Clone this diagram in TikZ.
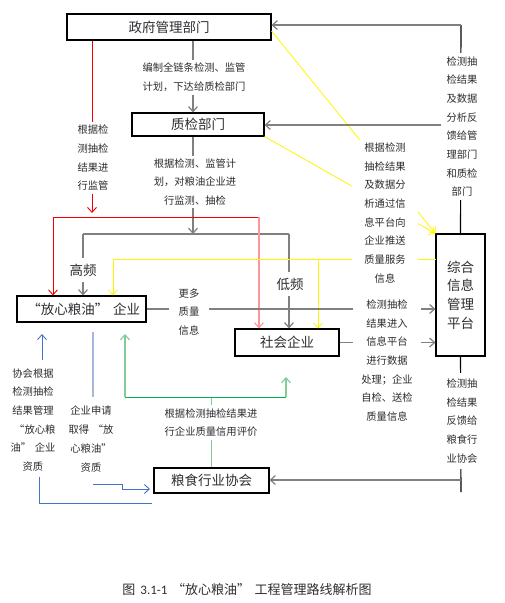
\documentclass[tikz,border=0pt]{standalone}
\usepackage{fontspec}
\setmainfont{Noto Sans CJK SC}
\newfontfamily\latfont{Carlito}
\usepackage{xcolor}
\usepackage{tikz}
\usetikzlibrary{arrows.meta, calc}

\definecolor{lineyel}{RGB}{255,245,0}
\definecolor{linered}{RGB}{240,0,0}
\definecolor{linepink}{RGB}{255,150,150}
\definecolor{linegrn}{RGB}{0,176,80}
\definecolor{linegrnlt}{RGB}{130,205,150}
\definecolor{lineblu}{RGB}{68,114,196}
\definecolor{linebluelt}{RGB}{165,185,220}
\definecolor{txtgray}{RGB}{45,45,50}

\newcommand{\quoteL}{\hspace{0.35em}“}
\newcommand{\quoteR}{”\hspace{0.35em}}

\begin{document}
\begin{tikzpicture}[x=1pt, y=-1pt, line width=0.8pt,
	box/.style={draw, line width=1.1pt, inner sep=0pt, align=center,
		font=\fontsize{13.5}{18.7}\selectfont, text=txtgray},
	lbl/.style={fill=white, align=center, inner xsep=8pt, inner ysep=3pt,
		font=\fontsize{10.3}{18.7}\selectfont, text=txtgray},
	tag/.style={fill=white, inner xsep=4pt, inner ysep=6pt,
		font=\fontsize{13.5}{16}\selectfont, text=txtgray},
	tip/.style={-{Straight Barb[length=5pt,width=9pt]}},
	conn/.style={draw=gray, line width=1.2pt},
	fb/.style={draw=black, line width=1.1pt},
	yelln/.style={draw=lineyel, line width=0.8pt},
	redln/.style={draw=linered, line width=0.9pt},
	pinkln/.style={draw=linepink, line width=1.1pt},
	grnln/.style={draw=linegrn, line width=0.9pt},
	grnlt/.style={draw=linegrnlt, line width=1.1pt},
	bluln/.style={draw=lineblu, line width=0.9pt},
	blult/.style={draw=linebluelt, line width=1.1pt}]

	\useasboundingbox (0,0) rectangle (504,603);

	\node[box, minimum width=204pt, minimum height=26pt] (gov) at (169,27) {政府管理部门};
	\node[box, minimum width=132pt, minimum height=23pt] (qc) at (198,124.5) {质检部门};
	\node[box, minimum width=129pt, minimum height=26pt] (fx) at (81.5,309) {\quoteL 放心粮油\quoteR 企业};
	\node[box, minimum width=104pt, minimum height=27pt] (sh) at (287,342.5) {社会企业};
	\node[box, minimum width=49pt, minimum height=122pt] (plat) at (460.5,295) {综合\\信息\\管理\\平台};
	\node[box, minimum width=115pt, minimum height=25pt] (assoc) at (211.5,480.5) {粮食行业协会};

	\coordinate (planX) at (193,0);
	\coordinate (split) at (193,234);
	\coordinate (hiTop) at (83,234);
	\coordinate (loTop) at (289,234);
	\coordinate (redTop) at (92,213);
	\coordinate (redA) at (53,217);
	\coordinate (redB) at (259,217);
	\coordinate (yelA) at (436,259);
	\coordinate (yelB) at (318,259);
	\coordinate (yelC) at (113,259);
	\coordinate (fbTop) at (461,25);
	\coordinate (fbMid) at (461,125);
	\coordinate (fbLow) at (461,480);
	\coordinate (fbEnd) at (461,492);
	\coordinate (grA) at (125,397);
	\coordinate (grB) at (286,397);
	\coordinate (bluA) at (152,503);
	\coordinate (bluB) at (39,477);
	\coordinate (bluC) at (42,360);
	\coordinate (bluD) at (42,334);
	\coordinate (appA) at (93,332);
	\coordinate (appB) at (93,397);
	\coordinate (appC) at (93,484);

	% plan and inspection
	\draw[conn, tip] (gov.south -| planX) -- (qc.north -| planX);
	\draw[conn, tip] (qc.south -| split) -- (split);
	\draw[conn] (hiTop) -- (loTop);
	\draw[conn, tip] (hiTop) -- (hiTop |- fx.north);
	\draw[conn, tip] (loTop) -- (loTop |- sh.north);

	% supervision
	\draw[redln, tip] (gov.south -| redTop) -- (redTop);
	\draw[redln] (redA) -- (redB);
	\draw[redln, tip] (redA) -- (redA |- fx.north);
	\draw[pinkln, tip] (redB) -- (redB |- sh.north);

	% quality service
	\draw[yelln, tip] ($(gov.east)+(0,4)$) -- (plat.north west);
	\draw[yelln, tip] (qc.south east) -- (plat.north west);
	\draw[yelln] (yelA) -- (yelC);
	\draw[yelln, tip] (yelC) -- (yelC |- fx.north);
	\draw[yelln, tip] (yelB) -- (yelB |- sh.north);

	% data to platform
	\draw[conn, tip] (fx.east) -- (fx.east -| plat.west);
	\draw[conn, tip] (sh.east) -- (sh.east -| plat.west);

	% feedback
	\draw[fb] (plat.north) -- (fbTop);
	\draw[conn, tip] (fbTop) -- (gov.east |- fbTop);
	\draw[conn, tip] (fbMid) -- (qc.east |- fbMid);
	\draw[fb] (plat.south) -- (fbEnd);
	\draw[conn, tip] (fbLow) -- (assoc.east |- fbLow);

	% credit rating
	\draw[grnlt] (assoc.north) -- (assoc.north |- grA);
	\draw[grnln] (grA) -- (grB);
	\draw[grnlt, tip] (grA) -- (grA |- bluD);
	\draw[grnlt, tip] (grB) -- ++(0,-20);

	% qualification
	\draw[bluln] (bluA) -| (bluB);
	\draw[bluln, tip] (bluC) -- (bluD);
	\draw[blult] (appA) -- (appB);
	\draw[bluln, tip] (appC) -- ++(29,0) -- ++(0,5) -- ++(28,0);

	\node[lbl] (plan) at (194,77.5) {编制全链条检测、监管\\计划，下达给质检部门};
	\node[lbl] (check) at (195,182) {根据检测、监管计\\划，对粮油企业进\\行监测、抽检};
	\node[lbl] (superv) at (93,158) {根据检\\测抽检\\结果进\\行监管};
	\node[lbl, inner xsep=12pt] (service) at (385,213) {根据检测\\抽检结果\\及数据分\\析通过信\\息平台向\\企业推送\\质量服务\\信息};
	\node[lbl, inner xsep=6pt] (back1) at (462,126.5) {检测抽\\检结果\\及数据\\分析反\\馈给管\\理部门\\和质检\\部门};
	\node[lbl, inner xsep=10pt] (more) at (189,312) {更多\\质量\\信息};
	\node[lbl] (upload) at (387,360.5) {检测抽检\\结果进入\\信息平台\\进行数据\\处理；企业\\自检、送检\\质量信息};
	\node[lbl, inner xsep=6pt, inner ysep=6pt] (back2) at (462,421) {检测抽\\检结果\\反馈给\\粮食行\\业协会};
	\node[lbl] (credit) at (211,422.5) {根据检测抽检结果进\\行企业质量信用评价};
	\node[lbl, inner xsep=2pt] (manage) at (33,420) {协会根据\\检测抽检\\结果管理\\\quoteL 放心粮\\油\quoteR 企业\\资质};
	\node[lbl, inner xsep=2pt] (apply) at (91,439) {企业申请\\取得\quoteL 放\\心粮油\quoteR\\资质};
	\node[tag] (hi) at (83,270) {高频};
	\node[tag] (lo) at (290,284) {低频};

	\node[font=\fontsize{13}{15}\selectfont, text=txtgray] (caption) at (247,590)
		{图\hspace{5pt}{\latfont 3.1-1}\quoteL 放心粮油\quoteR 工程管理路线解析图};
\end{tikzpicture}
\end{document}
